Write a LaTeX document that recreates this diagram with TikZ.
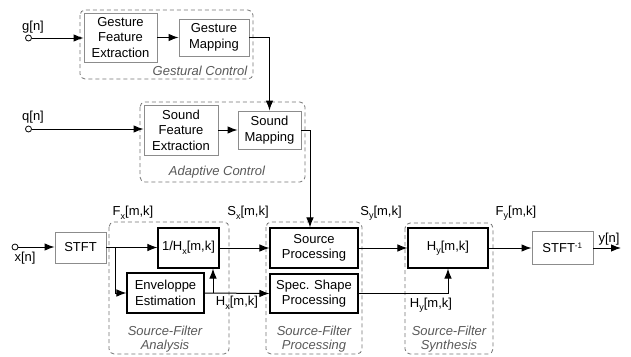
\documentclass[tikz,border=0pt]{standalone}
\usepackage{fontspec}
\setmainfont{Liberation Sans}
\usetikzlibrary{arrows.meta,calc}
\newcommand\sbx[1]{\raisebox{-0.5ex}{\fontsize{9}{9}\selectfont #1}}
\begin{document}
\begin{tikzpicture}[x=1pt,y=-1pt,
  font=\fontsize{13}{15.5}\selectfont,
  graybox/.style={draw=black!45, line width=0.9pt, align=center, inner sep=1pt, fill=white},
  blkbox/.style={draw=black, line width=1.1pt, align=center, inner sep=1pt, fill=white},
  group/.style={draw=black!55, dash pattern=on 4pt off 3pt, rounded corners=5pt, line width=0.8pt},
  arr/.style={-{Latex[length=10pt,width=7.5pt]}, line width=1pt},
  port/.style={circle, draw, line width=0.8pt, fill=white, inner sep=0pt, minimum size=6pt},
  grp/.style={text=black!65, font=\fontsize{13}{14.5}\selectfont\itshape, align=center},
  lbl/.style={inner sep=0pt}
]
\useasboundingbox (0,0) rectangle (631,356);
% groups
\draw[group] (80,10) rectangle (253,79);
\draw[group] (140,102) rectangle (305,182);
\draw[group] (109,222) rectangle (229,354);
\draw[group] (266,222) rectangle (362,354);
\draw[group] (405,223) rectangle (493,354);
\node[grp] at (200,71) {Gestural Control};
\node[grp] at (217,172) {Adaptive Control};
\node[grp] at (165,339) {Source-Filter\\Analysis};
\node[grp] at (314,339) {Source-Filter\\Processing};
\node[grp] at (449,339) {Source-Filter\\Synthesis};
% boxes
\node[graybox, minimum width=73pt, minimum height=49pt] (gfe) at (120.5,37.5) {Gesture\\Feature\\Extraction};
\node[graybox, minimum width=70pt, minimum height=37pt] (gm) at (214,37.5) {Gesture\\Mapping};
\node[graybox, minimum width=74pt, minimum height=50pt] (sfe) at (181,130) {Sound\\Feature\\Extraction};
\node[graybox, minimum width=63pt, minimum height=38pt] (sm) at (269.5,130) {Sound\\Mapping};
\node[graybox, minimum width=51pt, minimum height=31pt] (stft) at (80.5,247.5) {STFT};
\node[blkbox, minimum width=61pt, minimum height=40pt] (inv) at (188.5,248) {1/H\sbx{x}[m,k]};
\node[blkbox, minimum width=77pt, minimum height=40pt] (env) at (165.5,293) {Enveloppe\\Estimation};
\node[blkbox, minimum width=88pt, minimum height=40pt] (sp) at (314,248) {Source\\Processing};
\node[blkbox, minimum width=88pt, minimum height=39pt] (ssp) at (314,293.5) {Spec. Shape\\Processing};
\node[blkbox, minimum width=80pt, minimum height=40pt] (hy) at (448,248) {H\sbx{y}[m,k]};
\node[graybox, minimum width=61pt, minimum height=33pt] (istft) at (562.5,248) {STFT\textsuperscript{\fontsize{8}{8}\selectfont -1}};
% ports
\node[port] (g) at (28.5,38) {};
\node[port] (q) at (28.5,129) {};
\node[port] (x) at (15,247) {};
\coordinate (out) at (621,248);
\coordinate (b1) at (115,247.5);
\coordinate (b2) at (213,293);
% labels
\node[lbl] at (33,27) {g[n]};
\node[lbl] at (33,117) {q[n]};
\node[lbl] at (25,258) {x[n]};
\node[lbl] at (133,213) {F\sbx{x}[m,k]};
\node[lbl] at (248,213) {S\sbx{x}[m,k]};
\node[lbl] at (237,303) {H\sbx{x}[m,k]};
\node[lbl] at (381,213) {S\sbx{y}[m,k]};
\node[lbl] at (431,305) {H\sbx{y}[m,k]};
\node[lbl] at (516,213) {F\sbx{y}[m,k]};
\node[lbl] at (609,239) {y[n]};
% connectors
\draw[arr] (g) -- (g -| gfe.west);
\draw[arr] (gfe.east) -- (gfe.east -| gm.west);
\draw[arr] (gm.east) -| (sm.north);
\draw[arr] (q) -- (q -| sfe.west);
\draw[arr] (sfe.east) -- (sfe.east -| sm.west);
\draw[arr] (sm.east) -| ([xshift=-4pt]sp.north);
\draw[arr] (x) -- (x -| stft.west);
\draw[arr] (stft.east |- b1) -- (b1 -| inv.west);
\draw[arr] (b1) |- (env.west);
\draw[arr] (env.east) -- (ssp.west);
\draw[arr] (b2) -- (b2 |- inv.south);
\draw[arr] (inv.east) -- (sp.west);
\draw[arr] (sp.east) -- (hy.west);
\draw[arr] (ssp.east) -| (hy.south);
\draw[arr] (hy.east) -- (istft.west);
\draw[arr] (istft.east) -- (out);
\end{tikzpicture}
\end{document}
